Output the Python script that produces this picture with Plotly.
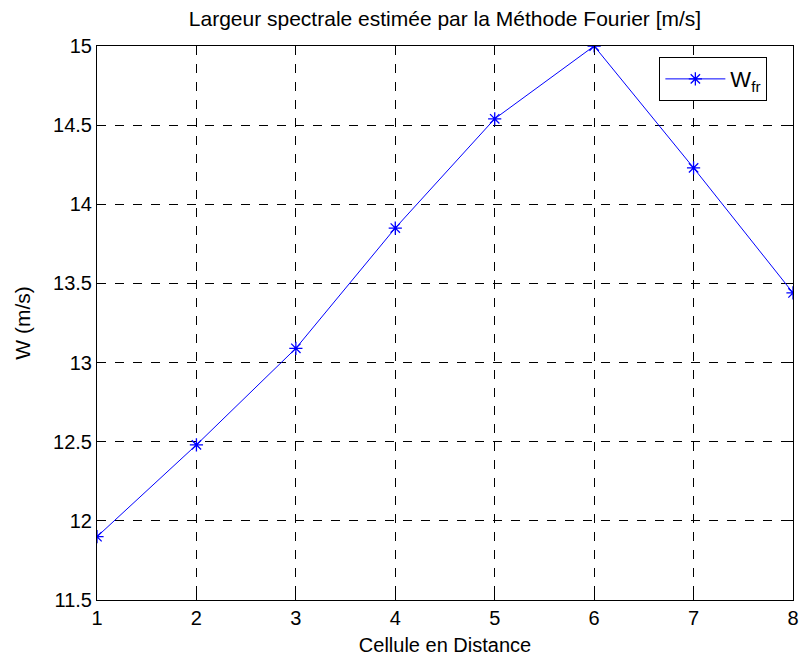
import plotly.graph_objects as go

# Range cells and estimated spectral width (m/s)
cells = [1, 2, 3, 4, 5, 6, 7, 8]
w_fr = [11.90, 12.48, 13.09, 13.85, 14.54, 15.00, 14.23, 13.44]

x_ticks = [1, 2, 3, 4, 5, 6, 7, 8]
y_ticks = [11.5, 12, 12.5, 13, 13.5, 14, 14.5, 15]
y_tick_text = ["11.5", "12", "12.5", "13", "13.5", "14", "14.5", "15"]

font_family = "Liberation Sans, Arial, sans-serif"

fig = go.Figure()
fig.add_trace(go.Scatter(
    x=cells, y=w_fr,
    mode="lines+markers",
    name="W<sub>fr</sub>",
    line=dict(color="#0000ff", width=1),
    marker=dict(symbol="asterisk-open", size=11, color="#0000ff",
                line=dict(color="#0000ff", width=1.3)),
))

axis_common = dict(
    showline=True, linecolor="black", linewidth=1, mirror="ticks",
    ticks="inside", ticklen=6, tickcolor="black",
    showgrid=True, gridcolor="black", gridwidth=1, griddash="dash",
    zeroline=False,
    tickfont=dict(family=font_family, size=20, color="black"),
)

fig.update_xaxes(
    range=[1, 8], tickvals=x_ticks,
    title=dict(text="Cellule en Distance", font=dict(family=font_family, size=20, color="black"), standoff=9),
    **axis_common,
)
fig.update_yaxes(
    range=[11.5, 15], tickvals=y_ticks, ticktext=y_tick_text,
    title=dict(text="W (m/s)", font=dict(family=font_family, size=21, color="black"), standoff=16),
    **axis_common,
)

fig.update_layout(
    width=806, height=659,
    margin=dict(l=97, r=7, t=46, b=58),
    paper_bgcolor="white", plot_bgcolor="white",
    title=dict(text="Largeur spectrale estimée par la Méthode Fourier [m/s]",
               x=0.5, xref="paper", xanchor="center", y=0.971, yanchor="middle",
               font=dict(family=font_family, size=21, color="black")),
    showlegend=True,
    legend=dict(x=0.808, y=0.98, xanchor="left", yanchor="top",
                itemwidth=60,
                bordercolor="black", borderwidth=1, bgcolor="white",
                font=dict(family=font_family, size=22, color="black")),
)

fig.write_html("out.html")
